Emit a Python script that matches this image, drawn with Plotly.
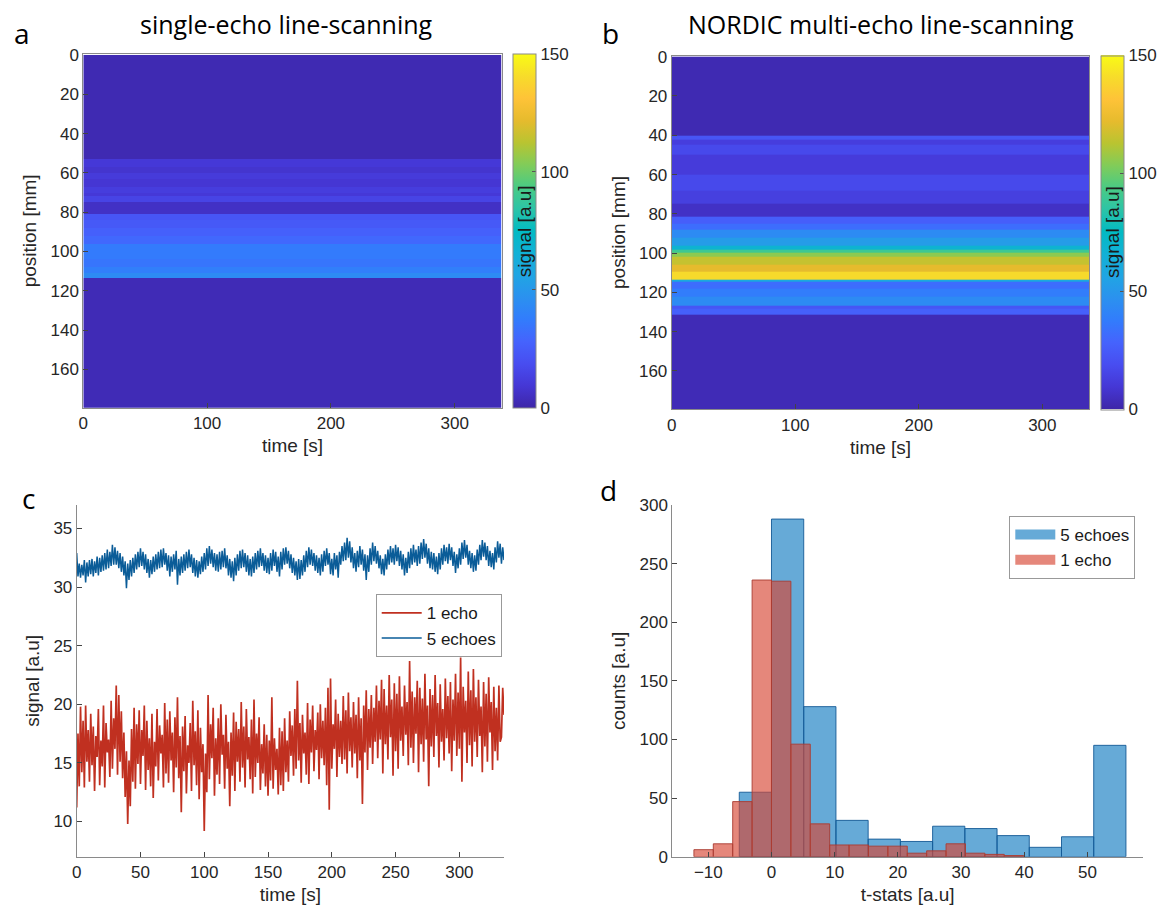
import plotly.graph_objects as go

# ---------------- data ----------------
# Panel a/b: depth profiles (band edges in mm, signal per band), constant over time
time_edges = [0, 338]
a_edges = [0, 53, 57, 60, 63, 67, 70, 72, 75, 81, 84, 88, 92, 96, 104, 108, 111, 113.5, 180]
a_vals = [2, 10, 8, 11, 9, 12, 10, 15, 6, 22, 24, 27, 30, 37, 35, 39, 44, 3]

b_edges = [0, 40, 42.5, 45, 50, 60, 68, 75, 81.5, 85, 88, 92, 96, 98, 100, 102, 106, 109.5,
           113.5, 114.5, 118, 122, 126.5, 128.5, 131.5, 180]
b_vals = [2, 22, 12, 17, 11, 17, 13, 6, 26, 32, 44, 52, 68, 90, 105, 115, 122, 140,
          60, 32, 38, 44, 22, 27, 3]

# Panel c: time courses (1 sample per second, values read/estimated from the figure)
red_1echo = [
    11.2, 17.5, 13.0, 19.8, 14.2, 18.6, 12.9, 19.9, 15.1, 17.8,
    13.4, 19.2, 14.8, 18.1, 12.6, 17.3, 15.5, 19.6, 13.1, 16.9,
    14.7, 19.9, 12.9, 18.4, 15.9, 17.0, 13.8, 20.3, 14.5, 18.8,
    16.2, 21.6, 14.0, 20.8, 15.1, 19.4, 13.7, 17.6, 12.1, 16.0,
    9.8, 15.2, 11.3, 17.9, 13.4, 19.7, 12.8, 18.3, 14.9, 19.5,
    13.2, 17.8, 15.6, 19.9, 12.7, 18.6, 14.4, 17.1, 13.0, 19.2,
    12.0, 16.8, 14.7, 19.6, 13.5, 18.2, 15.8, 17.4, 12.9, 20.1,
    14.1, 18.7, 13.3, 19.4, 15.2, 17.6, 12.5, 18.9, 14.6, 20.6,
    13.7, 17.3, 10.8, 18.1, 14.3, 19.0, 12.4, 16.5, 15.0, 18.4,
    12.6, 20.3, 14.8, 17.7, 13.1, 19.5, 11.9, 18.0, 14.2, 16.6,
    9.2, 15.8, 12.5, 20.8, 13.6, 18.3, 15.4, 19.7, 12.2, 17.1,
    14.0, 18.8, 13.2, 20.0, 15.7, 17.4, 12.8, 19.1, 14.5, 16.8,
    11.3, 17.6, 13.9, 19.3, 12.6, 18.5, 15.1, 17.9, 13.4, 20.2,
    14.6, 18.1, 12.9, 19.6, 15.3, 17.2, 13.6, 18.7, 12.4, 20.4,
    13.8, 17.5, 15.0, 18.9, 12.7, 16.6, 14.1, 18.3, 13.0, 17.4,
    12.2, 16.9, 13.5, 20.6, 12.8, 17.1, 14.4, 16.2, 12.3, 18.0,
    13.1, 17.7, 12.6, 18.8, 14.2, 16.9, 13.4, 19.4, 15.6, 18.2,
    13.9, 19.6, 14.5, 22.0, 15.2, 18.4, 13.3, 19.1, 15.8, 17.6,
    14.0, 20.1, 13.2, 18.7, 15.9, 19.9, 14.3, 17.8, 16.1, 19.3,
    13.6, 20.0, 15.4, 18.6, 14.8, 19.7, 13.1, 21.4, 11.0, 22.2,
    14.5, 18.3, 16.2, 20.4, 13.8, 19.2, 15.5, 18.6, 14.9, 20.7,
    15.3, 19.5, 14.1, 21.0, 16.0, 18.9, 14.6, 20.2, 15.8, 19.1,
    13.7, 20.6, 15.2, 18.8, 11.5, 19.9, 15.9, 21.2, 14.4, 19.6,
    16.3, 20.8, 14.9, 19.7, 16.8, 21.6, 15.4, 20.3, 17.0, 22.1,
    14.1, 21.3, 16.6, 19.9, 15.3, 22.5, 17.2, 20.4, 13.9, 21.8,
    16.0, 20.9, 14.5, 22.4, 16.9, 19.8, 15.6, 21.6, 17.4, 20.2,
    14.8, 23.7, 16.3, 21.1, 15.0, 20.6, 17.5, 22.0, 14.2, 21.4,
    16.6, 20.5, 15.1, 22.6, 17.0, 19.9, 13.0, 21.3, 16.4, 20.8,
    15.5, 22.5, 17.3, 20.1, 14.6, 21.7, 16.8, 19.6, 15.2, 22.2,
    17.1, 20.7, 15.8, 21.9, 14.3, 20.4, 16.9, 22.6, 15.6, 21.0,
    16.2, 24.0, 13.4, 21.5, 17.6, 20.3, 15.0, 22.8, 16.5, 21.2,
    14.7, 23.0, 16.8, 20.6, 15.5, 22.1, 17.3, 19.8, 14.2, 21.9,
    16.4, 20.9, 15.1, 22.3, 17.6, 20.2, 14.4, 21.5, 16.0, 19.7,
    15.2, 21.6, 16.8, 17.2, 21.4, 19.1,
]
blue_5echo = [
    32.9, 30.9, 32.0, 30.8, 31.9, 31.0, 32.3, 30.4, 32.1, 30.9,
    32.3, 31.1, 32.4, 30.9, 32.2, 31.2, 32.6, 31.0, 32.5, 31.3,
    32.7, 31.4, 32.9, 31.5, 33.2, 31.6, 33.0, 31.8, 33.6, 31.9,
    33.4, 31.9, 33.1, 31.6, 32.9, 31.3, 32.6, 31.0, 32.2, 29.9,
    32.0, 30.6, 32.3, 30.9, 32.5, 31.2, 32.8, 31.5, 33.0, 31.7,
    33.3, 31.8, 33.0, 31.5, 32.8, 31.2, 32.4, 30.8, 32.3, 31.1,
    32.6, 31.3, 32.8, 31.5, 33.0, 31.6, 33.2, 31.7, 33.3, 31.9,
    32.9, 31.4, 32.7, 30.9, 32.6, 31.3, 32.8, 31.5, 33.1, 30.2,
    32.4, 31.0, 32.6, 31.2, 32.8, 31.4, 33.0, 31.6, 33.2, 31.7,
    32.8, 31.2, 32.5, 30.9, 32.3, 30.8, 32.2, 31.1, 32.6, 31.3,
    32.9, 31.5, 33.3, 31.8, 33.5, 32.0, 33.2, 31.7, 32.9, 31.4,
    32.8, 31.3, 33.0, 31.5, 33.1, 31.7, 33.3, 31.6, 32.7, 31.0,
    32.4, 30.8, 32.2, 30.5, 32.5, 31.0, 32.8, 31.4, 33.1, 31.6,
    33.2, 31.7, 32.9, 31.3, 32.7, 31.0, 32.4, 30.9, 32.6, 31.2,
    32.9, 31.5, 33.1, 31.7, 33.3, 31.8, 32.9, 31.4, 32.7, 31.2,
    32.5, 31.1, 32.9, 31.4, 33.2, 31.8, 33.0, 31.3, 32.6, 30.9,
    33.0, 31.5, 33.3, 31.9, 33.4, 32.0, 33.1, 31.6, 32.8, 31.2,
    32.5, 31.0, 32.2, 30.6, 32.4, 30.7, 32.3, 31.0, 32.7, 31.3,
    33.1, 31.7, 33.4, 31.9, 33.2, 31.8, 32.9, 31.4, 32.7, 31.2,
    32.5, 31.0, 32.8, 31.3, 33.1, 31.8, 33.3, 31.9, 32.9, 31.1,
    32.4, 31.0, 32.9, 31.5, 32.7, 30.8, 33.0, 31.9, 33.5, 32.2,
    33.8, 32.3, 34.2, 32.5, 33.9, 32.1, 33.4, 31.6, 32.9, 31.3,
    33.1, 31.7, 33.5, 31.9, 33.2, 31.4, 32.8, 30.6, 32.7, 31.3,
    33.3, 31.9, 33.8, 32.2, 33.5, 32.0, 33.1, 31.6, 32.7, 31.1,
    32.4, 31.0, 32.8, 31.5, 33.2, 31.9, 33.5, 32.1, 33.3, 31.9,
    33.6, 32.2, 33.4, 31.8, 33.1, 31.5, 32.8, 31.0, 32.5, 31.2,
    33.0, 31.6, 33.3, 31.9, 33.6, 32.1, 33.2, 31.8, 33.5, 32.0,
    33.8, 32.4, 34.1, 32.5, 33.7, 32.0, 33.3, 31.6, 33.0, 31.5,
    32.9, 31.3, 32.6, 31.1, 32.9, 31.5, 33.3, 31.9, 33.6, 32.2,
    33.4, 32.0, 33.7, 32.3, 33.4, 31.8, 33.0, 31.2, 32.8, 31.6,
    33.3, 31.9, 33.8, 32.4, 34.0, 32.5, 33.6, 31.9, 33.1, 31.6,
    32.9, 31.3, 32.7, 31.4, 33.2, 31.9, 33.6, 32.3, 34.0, 32.6,
    33.8, 32.3, 33.5, 31.8, 33.1, 31.7, 32.9, 31.5, 33.4, 32.1,
    33.9, 32.5, 33.7, 32.0, 33.4, 32.3,
]
time_s = list(range(len(red_1echo)))

# Panel d: histograms of t-statistics (bin edges and counts)
blue_bin_edges = [-5.1, 0.0, 5.1, 10.2, 15.3, 20.4, 25.5, 30.6, 35.7, 40.8, 45.9, 51.0, 56.1]
blue_counts = [55, 288, 128, 31, 15, 13, 26, 24, 18, 8, 17, 95]
red_bin_edges = [-12.28, -9.21, -6.14, -3.07, 0.0, 3.07, 6.14, 9.21, 12.28, 15.35, 18.42,
                 21.49, 24.56, 27.63, 30.70, 33.77, 36.84, 39.91]
red_counts = [6, 11, 47, 236, 235, 96, 28, 10, 10, 9, 9, 3, 5, 11, 3, 2, 1]

# parula colormap samples
parula = [
    (0.2422, 0.1504, 0.6603), (0.2706, 0.2147, 0.8364), (0.2813, 0.3006, 0.9414),
    (0.2699, 0.3892, 0.9906), (0.1963, 0.4847, 0.9892), (0.1687, 0.5703, 0.9359),
    (0.1248, 0.6459, 0.8883), (0.0689, 0.6948, 0.8394), (0.0067, 0.7312, 0.7660),
    (0.1717, 0.7670, 0.6554), (0.2906, 0.7973, 0.5188), (0.5044, 0.7993, 0.3480),
    (0.7242, 0.7698, 0.1910), (0.9035, 0.7330, 0.1774), (0.9970, 0.7659, 0.2199),
    (0.9676, 0.8639, 0.1643), (0.9769, 0.9839, 0.0805),
]

# ---------------- figure ----------------
W, H = 1168, 915


def px(x):
    return x / W


def py(y):
    return 1 - y / H


n = len(parula)
colorscale = [[i / (n - 1), "rgb(%d,%d,%d)" % tuple(int(round(c * 255)) for c in col)]
              for i, col in enumerate(parula)]

FAM = "Liberation Sans, Arial, sans-serif"
TICKFONT = dict(family=FAM, size=17, color="#262626")
TITLEFONT = dict(family=FAM, size=19, color="#262626")
AXCOL = "#8a8a8a"

BLUE_FILL = "rgba(0,114,189,0.6)"
RED_FILL = "rgba(215,70,52,0.65)"

fig = go.Figure()


def cbar(xleft, ytop, ybot):
    return dict(
        x=px(xleft), xanchor="left", xpad=0, thickness=23, thicknessmode="pixels",
        y=py((ytop + ybot) / 2), yanchor="middle", ypad=0, len=ybot - ytop, lenmode="pixels",
        tickvals=[0, 50, 100, 150], ticks="inside", ticklen=4, tickcolor="#555",
        tickfont=TICKFONT, outlinecolor=AXCOL, outlinewidth=1,
    )


fig.add_trace(go.Heatmap(
    z=[[v] for v in a_vals], x=time_edges, y=a_edges, zmin=0, zmax=150,
    colorscale=colorscale, colorbar=cbar(512.7, 54, 407.7),
    xaxis="x", yaxis="y", showlegend=False, hoverinfo="skip"))
fig.add_trace(go.Heatmap(
    z=[[v] for v in b_vals], x=time_edges, y=b_edges, zmin=0, zmax=150,
    colorscale=colorscale, colorbar=cbar(1101, 55.7, 409.3),
    xaxis="x2", yaxis="y2", showlegend=False, hoverinfo="skip"))

fig.add_trace(go.Scatter(
    x=time_s, y=red_1echo, mode="lines", name="1 echo",
    line=dict(color="rgb(192,48,32)", width=1.7), xaxis="x3", yaxis="y3", legend="legend"))
fig.add_trace(go.Scatter(
    x=time_s, y=blue_5echo, mode="lines", name="5 echoes",
    line=dict(color="rgb(10,92,152)", width=1.5), xaxis="x3", yaxis="y3", legend="legend"))


def centers(edges):
    return [(edges[i] + edges[i + 1]) / 2 for i in range(len(edges) - 1)]


def widths(edges):
    return [edges[i + 1] - edges[i] for i in range(len(edges) - 1)]


fig.add_trace(go.Bar(
    x=centers(blue_bin_edges), y=blue_counts, width=widths(blue_bin_edges), name="5 echoes",
    marker=dict(color=BLUE_FILL, line=dict(color="rgba(20,90,150,0.9)", width=1)),
    xaxis="x4", yaxis="y4", showlegend=False))
fig.add_trace(go.Bar(
    x=centers(red_bin_edges), y=red_counts, width=widths(red_bin_edges), name="1 echo",
    marker=dict(color=RED_FILL, line=dict(color="rgba(170,60,50,0.9)", width=1)),
    xaxis="x4", yaxis="y4", showlegend=False))
# legend-only proxies giving wide rectangular swatches like the original
fig.add_trace(go.Scatter(x=[None], y=[None], mode="lines", name="5 echoes",
                         line=dict(color=BLUE_FILL, width=15), xaxis="x4", yaxis="y4",
                         legend="legend2"))
fig.add_trace(go.Scatter(x=[None], y=[None], mode="lines", name="1 echo",
                         line=dict(color=RED_FILL, width=15), xaxis="x4", yaxis="y4",
                         legend="legend2"))

common = dict(ticks="inside", ticklen=5, tickcolor="#444", showline=True, linecolor=AXCOL,
              showgrid=False, zeroline=False, tickfont=TICKFONT, automargin=False)
heat_x = dict(range=[0, 338], tickvals=[0, 100, 200, 300], mirror=True,
              title=dict(text="time [s]", font=TITLEFONT, standoff=6), **common)
heat_y = dict(range=[179.5, -0.5], tickvals=list(range(0, 161, 20)), mirror=True,
              title=dict(text="position [mm]", font=TITLEFONT, standoff=8), **common)

fig.update_layout(
    template="none",
    width=W, height=H, margin=dict(l=0, r=0, t=0, b=0, autoexpand=False),
    paper_bgcolor="white", plot_bgcolor="white", barmode="overlay",
    xaxis=dict(domain=[px(83.3), px(501.7)], anchor="y", **heat_x),
    yaxis=dict(domain=[py(407.7), py(54)], anchor="x", **heat_y),
    xaxis2=dict(domain=[px(671.7), px(1089.3)], anchor="y2", **heat_x),
    yaxis2=dict(domain=[py(409.3), py(55.7)], anchor="x2", **heat_y),
    xaxis3=dict(domain=[px(76.7), px(504)], anchor="y3", range=[0, 335],
                tickvals=list(range(0, 301, 50)), mirror=False,
                title=dict(text="time [s]", font=TITLEFONT, standoff=6), **common),
    yaxis3=dict(domain=[py(856.7), py(505)], anchor="x3", range=[7, 37],
                tickvals=[10, 15, 20, 25, 30, 35], mirror=False,
                title=dict(text="signal [a.u]", font=TITLEFONT, standoff=8), **common),
    xaxis4=dict(domain=[px(672.3), px(1143)], anchor="y4", range=[-15.7, 58.8],
                tickvals=list(range(-10, 51, 10)), mirror=False,
                title=dict(text="t-stats [a.u]", font=TITLEFONT, standoff=6), **common),
    yaxis4=dict(domain=[py(856.7), py(505)], anchor="x4", range=[0, 300],
                tickvals=list(range(0, 301, 50)), mirror=False,
                title=dict(text="counts [a.u]", font=TITLEFONT, standoff=8), **common),
    legend=dict(x=px(501.7), xanchor="right", y=py(594.3), yanchor="top",
                bgcolor="white", bordercolor="#999", borderwidth=1,
                font=dict(family=FAM, size=17, color="#1a1a1a"),
                tracegroupgap=0, itemwidth=40),
    legend2=dict(x=px(1135.3), xanchor="right", y=py(516), yanchor="top",
                 bgcolor="white", bordercolor="#999", borderwidth=1,
                 font=dict(family=FAM, size=17, color="#1a1a1a"),
                 tracegroupgap=0, itemwidth=40),
)

LETTERFONT = dict(family="Open Sans, Noto Sans, sans-serif", size=28, color="black")
TFONT = dict(family="Open Sans, Noto Sans, sans-serif", size=25, color="black")
ann = [
    dict(text="a", x=px(22), y=py(33), font=LETTERFONT),
    dict(text="b", x=px(610), y=py(33), font=LETTERFONT),
    dict(text="c", x=px(28), y=py(498), font=LETTERFONT),
    dict(text="d", x=px(608), y=py(490), font=LETTERFONT),
    dict(text="single-echo line-scanning", x=px(286), y=py(24), font=TFONT),
    dict(text="NORDIC multi-echo line-scanning", x=px(880.5), y=py(24), font=TFONT),
    dict(text="signal [a.u]", x=px(524.4), y=py(230.9), textangle=-90,
         font=dict(family=FAM, size=19, color="#1a1a1a")),
    dict(text="signal [a.u]", x=px(1112.5), y=py(232.5), textangle=-90,
         font=dict(family=FAM, size=19, color="#1a1a1a")),
]
for a in ann:
    a.update(xref="paper", yref="paper", showarrow=False, xanchor="center", yanchor="middle")
fig.update_layout(annotations=ann)

fig.write_html("out.html", config={"displayModeBar": False},
               post_script="document.body.style.margin='0';document.body.style.overflow='hidden';")
